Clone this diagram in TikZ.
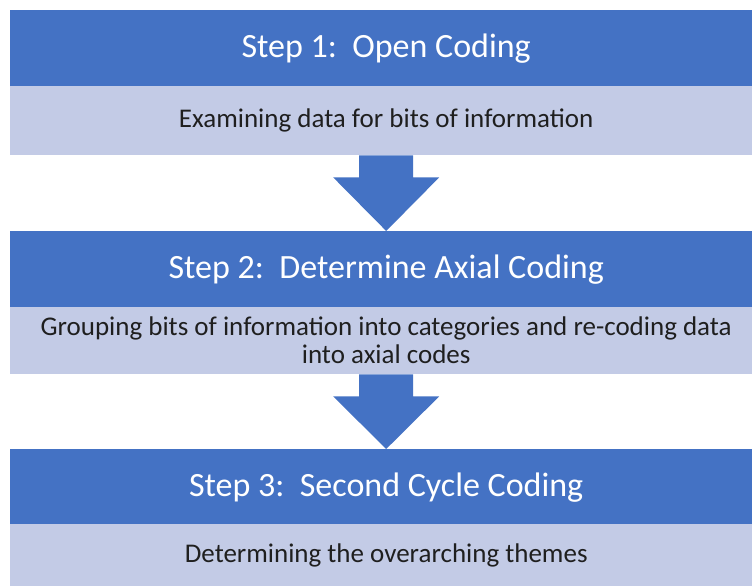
\documentclass[tikz,border=0pt]{standalone}
\usepackage{fontspec}
\setmainfont{Carlito}
\usetikzlibrary{calc}
\definecolor{hdr}{HTML}{4472C4}
\definecolor{lite}{HTML}{C3CBE6}
\begin{document}
\begin{tikzpicture}[x=1pt,y=-1pt,
  hdrbox/.style={fill=hdr,text=white,minimum width=752pt,minimum height=76pt,anchor=north west,inner sep=0pt,font=\fontsize{34}{40}\selectfont},
  bodybox/.style={fill=lite,text=black!88,minimum width=752pt,anchor=north west,inner sep=0pt,align=center,font=\fontsize{27}{28}\selectfont},
  arrowfill/.style={fill=hdr}]
\clip (0,0) rectangle (752,586);
\fill[white] (0,0) rectangle (752,586);
\node[hdrbox] (h1) at (10,10) {Step 1:\ \ Open Coding};
\node[bodybox,minimum height=69pt] (b1) at (10,86) {Examining data for bits of information};
\node[hdrbox] (h2) at (10,231) {Step 2:\ \ Determine Axial Coding};
\node[bodybox,minimum height=67pt] (b2) at (10,307) {Grouping bits of information into categories and re-coding data\\into axial codes};
\node[hdrbox] (h3) at (10,449) {Step 3:\ \ Second Cycle Coding};
\node[bodybox,minimum height=62pt] (b3) at (10,524) {Determining the overarching themes};
\fill[arrowfill] ($(b1.south)+(-27,0)$) -- ($(b1.south)+(27,0)$) -- ($(b1.south)+(27,22)$) -- ($(b1.south)+(53,22)$) -- (h2.north) -- ($(b1.south)+(-53,22)$) -- ($(b1.south)+(-27,22)$) -- cycle;
\fill[arrowfill] ($(b2.south)+(-27,0)$) -- ($(b2.south)+(27,0)$) -- ($(b2.south)+(27,22)$) -- ($(b2.south)+(53,22)$) -- (h3.north) -- ($(b2.south)+(-53,22)$) -- ($(b2.south)+(-27,22)$) -- cycle;
\end{tikzpicture}
\end{document}
